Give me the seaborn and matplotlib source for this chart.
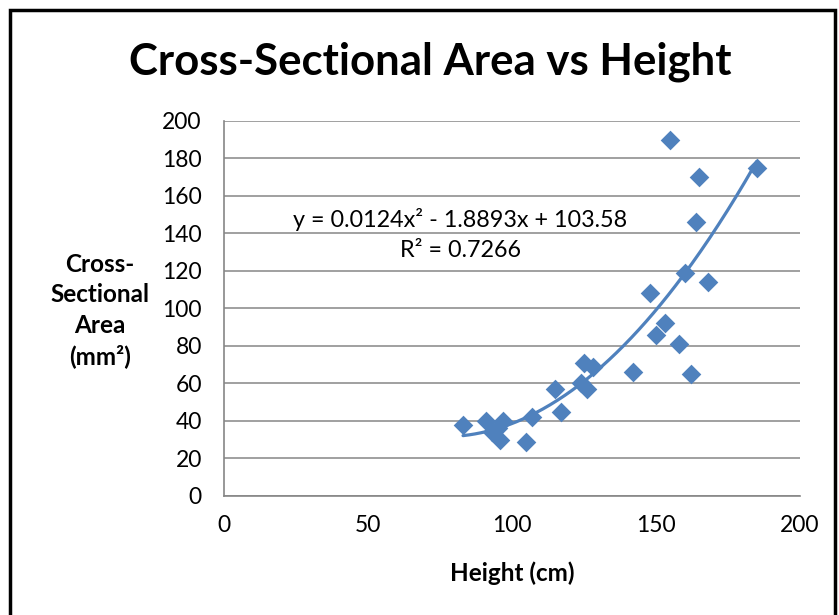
import matplotlib
matplotlib.use("Agg")
import matplotlib.pyplot as plt
import matplotlib.patches as patches
import numpy as np
import pandas as pd
import seaborn as sns

# values
heights = [83, 91, 93, 95, 96, 97, 105, 107, 115, 117, 124, 126, 125, 128,
           142, 148, 150, 153, 158, 160, 162, 164, 165, 168, 155, 185]
areas = [38, 40, 34, 36, 30, 40, 29, 42, 57, 45, 60, 57, 71, 69,
         66, 108, 86, 92, 81, 119, 65, 146, 170, 114, 190, 175]

# trendline coefficients as printed on the chart
coef_a, coef_b, coef_c = 0.0124, -1.8893, 103.58
r_squared = 0.7266

x_ticks = [0, 50, 100, 150, 200]
y_ticks = [0, 20, 40, 60, 80, 100, 120, 140, 160, 180, 200]

blue = "#4F81BD"
grid_gray = "#868686"

sns.set_style("white")
plt.rcParams["font.family"] = ["Lato", "DejaVu Sans"]
plt.rcParams["text.color"] = "black"

df = pd.DataFrame({"Height": heights, "Area": areas})

fig = plt.figure(figsize=(8.39, 6.15), dpi=100)
ax = fig.add_axes([0.267, 0.1935, 0.6865, 0.6098])

sns.scatterplot(data=df, x="Height", y="Area", marker="D", s=100,
                color=blue, edgecolor=blue, linewidth=0, ax=ax, zorder=3)

xs = np.linspace(min(heights), max(heights), 200)
ys = coef_a * xs ** 2 + coef_b * xs + coef_c
ax.plot(xs, ys, color=blue, lw=2.3, zorder=2)

ax.set_xlim(0, 200)
ax.set_ylim(0, 200)
ax.set_xticks(x_ticks)
ax.set_yticks(y_ticks)
ax.tick_params(axis="both", labelsize=16.5, length=5, width=1.2,
               color=grid_gray, labelcolor="black", direction="out")
ax.tick_params(axis="x", pad=9)
ax.tick_params(axis="y", pad=11)
ax.yaxis.grid(True, color=grid_gray, lw=1.1)
ax.xaxis.grid(False)
for side in ["top", "right"]:
    ax.spines[side].set_visible(False)
for side in ["left", "bottom"]:
    ax.spines[side].set_color(grid_gray)
    ax.spines[side].set_linewidth(1.2)

ax.set_xlabel("Height (cm)", fontsize=17.5, fontweight="bold", labelpad=18,
              color="black")
ax.set_ylabel("")
fig.text(0.119, 0.495, "Cross-\nSectional\nArea\n(mm\u00b2)", fontsize=17.5,
         fontweight="bold", ha="center", va="center", linespacing=1.38,
         color="black")

ax.text(82, 147.5, f"y = {coef_a}x\u00b2 - {abs(coef_b)}x + {coef_c}",
        fontsize=16.8, ha="center", va="center", color="black")
ax.text(82, 131, f"R\u00b2 = {r_squared}", fontsize=16.8, ha="center",
        va="center", color="black")

fig.text(0.513, 0.9, "Cross-Sectional Area vs Height", fontsize=31.5,
         fontweight="bold", ha="center", va="center", color="black")

frame = patches.Rectangle((10 / 839, -0.1), 825 / 839, 1.1 - 10 / 615,
                          transform=fig.transFigure, fill=False,
                          edgecolor="black", lw=2.5, zorder=10)
fig.patches.append(frame)

fig.savefig("out.png", dpi=100)
